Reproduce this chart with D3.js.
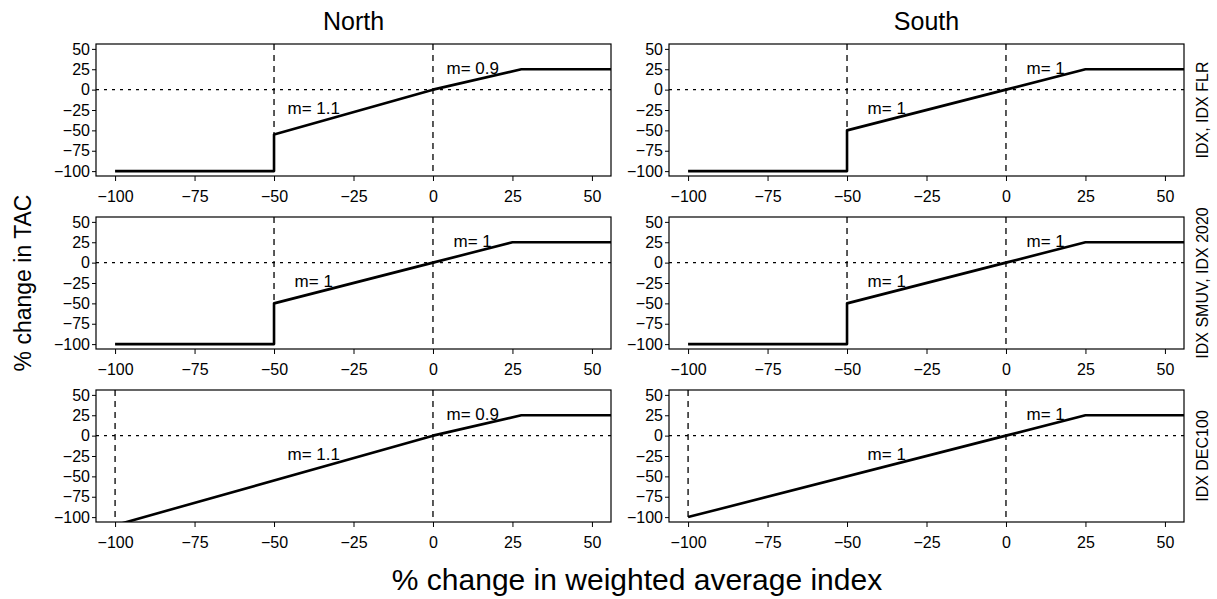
<!DOCTYPE html>
<html>
<head>
<meta charset="utf-8">
<script src="https://cdn.jsdelivr.net/npm/d3@7"></script>
<style>
  body { margin: 0; background: #fff; }
  text { font-family: "Liberation Sans", Arial, Helvetica, sans-serif; fill: #000; }
</style>
</head>
<body>
<script>
// tick values and labels
const xTicks = [-100, -75, -50, -25, 0, 25, 50];
const yTicks = [-100, -75, -50, -25, 0, 25, 50];
const regions = ["North", "South"];
const rowLabels = ["IDX, IDX FLR", "IDX SMUV, IDX 2020", "IDX DEC100"];

// harvest control rules (x = % change in index, y = % change in TAC)
const flrNorthX = [-100, -50, -50, 0, 27.8, 60];
const flrNorthY = [-100, -100, -55, 0, 25, 25];
const flrSouthX = [-100, -50, -50, 0, 25, 60];
const flrSouthY = [-100, -100, -50, 0, 25, 25];
const smuvNorthX = [-100, -50, -50, 0, 25, 60];
const smuvNorthY = [-100, -100, -50, 0, 25, 25];
const smuvSouthX = [-100, -50, -50, 0, 25, 60];
const smuvSouthY = [-100, -100, -50, 0, 25, 25];
const decNorthX = [-100, 0, 27.8, 60];
const decNorthY = [-110, 0, 25, 25];
const decSouthX = [-100, 0, 25, 60];
const decSouthY = [-100, 0, 25, 25];

// slope labels (lower segment, upper segment)
const slopeLabels = [
  [["m= 1.1", "m= 0.9"], ["m= 1", "m= 1"]],
  [["m= 1", "m= 1"], ["m= 1", "m= 1"]],
  [["m= 1.1", "m= 0.9"], ["m= 1", "m= 1"]]
];
// dashed vertical reference lines by row
const vRefs = [[-50, 0], [-50, 0], [-100, 0]];

const lines = [
  [[flrNorthX, flrNorthY], [flrSouthX, flrSouthY]],
  [[smuvNorthX, smuvNorthY], [smuvSouthX, smuvSouthY]],
  [[decNorthX, decNorthY], [decSouthX, decSouthY]]
];

const W = 1217, H = 599;
const marginLeft = 96, marginTop = 44;
const pw = 515, ph = 132;
const colStep = 573, rowStep = 173;

const svg = d3.select("body").append("svg")
  .attr("width", W).attr("height", H);

const x = d3.scaleLinear().domain([-106, 56]).range([0, pw]);
const y = d3.scaleLinear().domain([-106, 56]).range([ph, 0]);

const line = d3.line().x(d => x(d[0])).y(d => y(d[1]));

for (let r = 0; r < 3; r++) {
  for (let c = 0; c < 2; c++) {
    const g = svg.append("g")
      .attr("transform", "translate(" + (marginLeft + c * colStep) + "," + (marginTop + r * rowStep) + ")");
    const clipId = "clip" + r + c;
    g.append("clipPath").attr("id", clipId)
      .append("rect").attr("width", pw).attr("height", ph);

    const inner = g.append("g").attr("clip-path", "url(#" + clipId + ")");

    // dotted zero line
    inner.append("line")
      .attr("x1", 0).attr("x2", pw)
      .attr("y1", y(0)).attr("y2", y(0))
      .attr("stroke", "#000").attr("stroke-width", 1.3)
      .attr("stroke-dasharray", "3,5");

    // dashed verticals
    vRefs[r].forEach(v => {
      inner.append("line")
        .attr("x1", x(v)).attr("x2", x(v))
        .attr("y1", 0).attr("y2", ph)
        .attr("stroke", "#000").attr("stroke-width", 1.3)
        .attr("stroke-dasharray", "6,5");
    });

    const xs = lines[r][c][0], ys = lines[r][c][1];
    inner.append("path")
      .datum(xs.map((v, i) => [v, ys[i]]))
      .attr("d", line)
      .attr("fill", "none")
      .attr("stroke", "#000")
      .attr("stroke-width", 2.6)
      .attr("stroke-linejoin", "round");

    // slope labels
    g.append("text").attr("x", x(-37.5)).attr("y", y(-22.5))
      .attr("text-anchor", "middle").attr("dy", "0.35em")
      .style("font-size", "17px").text(slopeLabels[r][c][0]);
    g.append("text").attr("x", x(12.5)).attr("y", y(26))
      .attr("text-anchor", "middle").attr("dy", "0.35em")
      .style("font-size", "17px").text(slopeLabels[r][c][1]);

    // axes
    const xa = g.append("g").attr("transform", "translate(0," + ph + ")")
      .call(d3.axisBottom(x).tickValues(xTicks).tickSize(5).tickPadding(10).tickSizeOuter(0));
    const ya = g.append("g")
      .call(d3.axisLeft(y).tickValues(yTicks).tickSize(4).tickPadding(2).tickSizeOuter(0));
    [xa, ya].forEach(a => {
      a.select(".domain").remove();
      a.selectAll("text").style("font-size", "16px")
        .style("font-family", "'Liberation Sans', Arial, sans-serif").attr("fill", "#000");
      a.selectAll("line").attr("stroke", "#000").attr("stroke-width", 1);
    });

    // box
    g.append("rect").attr("width", pw).attr("height", ph)
      .attr("fill", "none").attr("stroke", "#000").attr("stroke-width", 1.2);

    if (r === 0) {
      g.append("text").attr("x", pw / 2).attr("y", -14)
        .attr("text-anchor", "middle").style("font-size", "25px").text(regions[c]);
    }
    if (c === 1) {
      g.append("text")
        .attr("transform", "translate(" + (pw + 18) + "," + (ph / 2) + ") rotate(-90)")
        .attr("text-anchor", "middle").attr("dy", "0.35em")
        .style("font-size", "16px").text(rowLabels[r]);
    }
  }
}

svg.append("text")
  .attr("transform", "translate(23," + (marginTop + rowStep + ph / 2) + ") rotate(-90)")
  .attr("text-anchor", "middle").attr("dy", "0.35em")
  .style("font-size", "23px").text("% change in TAC");

svg.append("text")
  .attr("x", 637).attr("y", 590)
  .attr("text-anchor", "middle")
  .style("font-size", "30px").text("% change in weighted average index");
</script>
</body>
</html>
